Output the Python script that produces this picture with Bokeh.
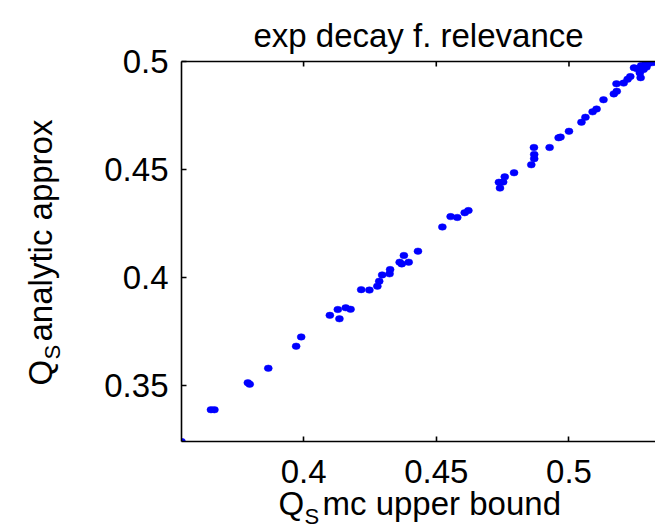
import math
from bokeh.plotting import figure
from bokeh.models import Range1d, LinearAxis, FixedTicker, Label
from bokeh.embed import file_html
from bokeh.resources import INLINE

title_text = "exp decay f. relevance"
x_label_text = "Q\u00a0\u00a0mc upper bound"
x_label_sub = "S"
y_label_text = "Q\u00a0\u00a0analytic approx"
y_label_sub = "S"

x_mc = [0.3540, 0.3651, 0.3664, 0.3790, 0.3797, 0.3867, 0.3972, 0.3991, 0.4099, 0.4129,
        0.4135, 0.4159, 0.4177, 0.4217, 0.4248, 0.4278, 0.4285, 0.4296, 0.4324, 0.4326,
        0.4362, 0.4370, 0.4378, 0.4396, 0.4431, 0.4523, 0.4554, 0.4579, 0.4607, 0.4621,
        0.4736, 0.4740, 0.4752, 0.4758, 0.4793, 0.4858, 0.4869, 0.4869, 0.4868, 0.4927,
        0.4961, 0.4968, 0.5000, 0.5047, 0.5062, 0.5089, 0.5104, 0.5130, 0.5169, 0.5180,
        0.5179, 0.5206, 0.5221, 0.5231, 0.5245, 0.5257, 0.5270, 0.5267, 0.5281, 0.5272,
        0.5292, 0.5289, 0.5295, 0.5300, 0.5307, 0.5315, 0.5320, 0.5326]
y_an = [0.3241, 0.3388, 0.3388, 0.3513, 0.3506, 0.3580, 0.3682, 0.3725, 0.3825, 0.3852,
        0.3809, 0.3860, 0.3853, 0.3944, 0.3942, 0.3960, 0.3983, 0.4012, 0.4017, 0.4037,
        0.4071, 0.4063, 0.4102, 0.4071, 0.4122, 0.4234, 0.4282, 0.4278, 0.4300, 0.4310,
        0.4441, 0.4414, 0.4442, 0.4466, 0.4485, 0.4522, 0.4550, 0.4570, 0.4602, 0.4602,
        0.4647, 0.4650, 0.4677, 0.4719, 0.4742, 0.4767, 0.4780, 0.4823, 0.4850, 0.4862,
        0.4897, 0.4900, 0.4918, 0.4930, 0.4971, 0.4966, 0.4925, 0.4947, 0.4963, 0.4981,
        0.4974, 0.4989, 0.5000, 0.4991, 0.5000, 0.4995, 0.5000, 0.5000]
x_ticks = [0.4, 0.45, 0.5]
y_ticks = [0.35, 0.4, 0.45, 0.5]

X0, X1 = 0.354, 0.5326
Y0, Y1 = 0.3241, 0.5
FONT = "Liberation Sans"
FS = "33px"
FS_SUB = "22px"
BLACK = "black"

W, H = 655, 529
FL, FT, FB, FR = 181, 61, 88, 0
FW = W - FL - FR
FH = H - FT - FB
TICK = 5

p = figure(width=W, height=H, x_range=Range1d(X0, X1), y_range=Range1d(Y0, Y1),
           output_backend="svg", toolbar_location=None,
           x_axis_location=None, y_axis_location=None,
           min_border_left=FL, min_border_right=FR, min_border_top=FT, min_border_bottom=FB)
p.grid.visible = False
p.outline_line_color = None
p.background_fill_color = "white"
p.border_fill_color = "white"

p.title.text = title_text
p.title.text_font = FONT
p.title.text_font_size = FS
p.title.text_font_style = "normal"
p.title.text_color = BLACK
p.title.align = "center"
p.title.offset = 5
p.title.standoff = 16


def style(ax, ticks):
    ax.ticker = FixedTicker(ticks=ticks)
    ax.major_tick_in = TICK
    ax.major_tick_out = 0
    ax.minor_tick_in = 0
    ax.minor_tick_out = 0
    ax.axis_line_width = 1.6
    ax.axis_line_color = BLACK
    ax.major_tick_line_width = 1.6
    ax.major_tick_line_color = BLACK
    ax.major_label_text_font = FONT
    ax.major_label_text_color = BLACK
    ax.major_label_text_font_size = FS


xb = LinearAxis()
style(xb, x_ticks)
xb.major_label_standoff = 18
p.add_layout(xb, "below")

yl = LinearAxis()
style(yl, y_ticks)
yl.major_label_standoff = 13
p.add_layout(yl, "left")

# top box edge: axis line only; its tick marks drawn inward as segments
xa = LinearAxis(ticker=FixedTicker(ticks=[]))
xa.axis_line_width = 1.6
xa.axis_line_color = BLACK
xa.major_tick_in = 0
xa.major_tick_out = 0
xa.minor_tick_in = 0
xa.minor_tick_out = 0
p.add_layout(xa, "above")
tick_len = TICK / FH * (Y1 - Y0)
p.segment(x0=x_ticks, y0=[Y1] * len(x_ticks), x1=x_ticks,
          y1=[Y1 - tick_len] * len(x_ticks), line_color=BLACK, line_width=1.6)

p.ellipse(x=x_mc, y=y_an, width=8, height=6.5, width_units="screen", height_units="screen",
          fill_color="#0000ff", line_color="#0000ff", line_width=0.5)


def px_to_x(px):  # page pixel column -> x data value
    return X0 + (px - FL) / FW * (X1 - X0)


def py_to_y(py):  # page pixel row -> y data value
    return Y1 - (py - FT) / FH * (Y1 - Y0)


def lab(side, px, py, text, size=FS, angle=0.0):
    p.add_layout(Label(x=px_to_x(px), y=py_to_y(py), text=text, text_font=FONT,
                       text_font_size=size, text_color=BLACK, text_align="left",
                       text_baseline="alphabetic", angle=angle), side)


# y axis title (rotated) with its subscript, in the left border
lab("left", 40, 385, y_label_text, angle=math.pi / 2)
lab("left", 52, 359, y_label_sub, size=FS_SUB, angle=math.pi / 2)
# x axis title below the axis; its subscript kept in the roomier left panel
lab("below", 278, 503, x_label_text)
lab("left", 304, 516, x_label_sub, size=FS_SUB)

open("out.html", "w").write(file_html(p, INLINE))
